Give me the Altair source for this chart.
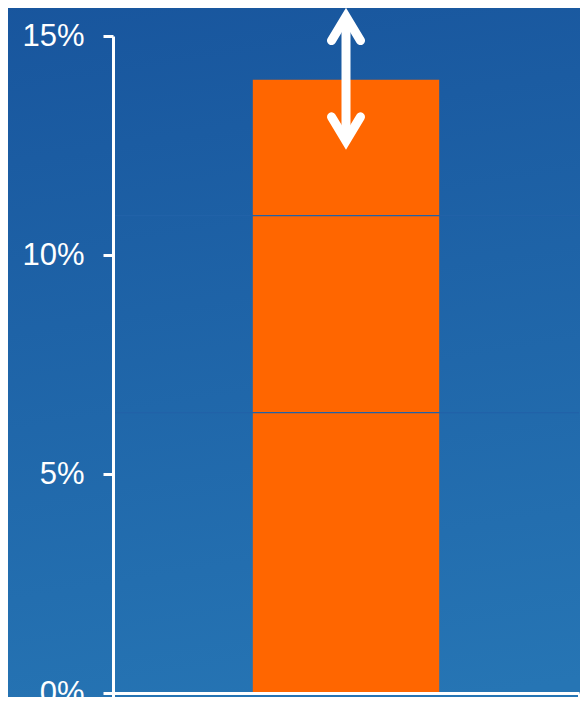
import altair as alt
import pandas as pd

# ---- data ----
category = ["Total"]
segment_names = ["Segment 1", "Segment 2", "Segment 3"]
segment_values = [6.4, 4.5, 3.1]          # stacked pieces, in %
arrow_top = [15.65]                        # double arrow, upper end (%)
arrow_bottom = [12.4]                      # double arrow, lower end (%)
y_tick_values = [0, 5, 10, 15]

# ---- tables built from the arrays ----
tops = pd.Series(segment_values).cumsum().round(4)
seg_df = pd.DataFrame({
    "category": category * len(segment_values),
    "segment": segment_names,
    "bottom": (tops - pd.Series(segment_values)).round(4),
    "top": tops,
})
sep_df = seg_df.iloc[:-1].copy()
arrow_df = pd.DataFrame({"category": category, "top": arrow_top, "bottom": arrow_bottom})
bg_df = pd.DataFrame({"k": [0]})

ORANGE = "#FF6600"
WHITE = "#FFFFFF"

xscale = alt.Scale(paddingInner=0, paddingOuter=0)
yscale = alt.Scale(domain=[0, 15], nice=False, zero=True)

xaxis = alt.Axis(labels=False, title=None, grid=False, domainColor=WHITE, domainWidth=3,
                 tickColor=WHITE, tickWidth=3, tickSize=10, tickBand="extent", zindex=1)
yaxis = alt.Axis(values=y_tick_values, labelExpr="datum.value + '%'", title=None, grid=False,
                 labelFont="Liberation Sans", labelFontSize=31, labelColor=WHITE,
                 labelPadding=19, labelBaseline="middle",
                 domainColor=WHITE, domainWidth=3, tickColor=WHITE, tickWidth=3, tickSize=10,
                 zindex=1)

X = alt.X("category:N", scale=xscale, axis=xaxis, title=None)

background = alt.Chart(bg_df).mark_rect(
    fill=alt.LinearGradient(
        gradient="linear",
        stops=[alt.GradientStop(color="#18559d", offset=0),
               alt.GradientStop(color="#2675b4", offset=1)],
        x1=0, x2=0.15, y1=0, y2=1,
    ),
    strokeWidth=0,
).encode(
    x=alt.value(-120), x2=alt.value(600), y=alt.value(-40), y2=alt.value(720)
)

bars = alt.Chart(seg_df).mark_bar(color=ORANGE, width={"band": 0.4}, strokeWidth=0).encode(
    x=X,
    y=alt.Y("bottom:Q", scale=yscale, axis=yaxis, title=None),
    y2="top:Q",
)

separators = alt.Chart(sep_df).mark_rule(color="#2162a8", strokeWidth=1.2).encode(
    y=alt.Y("top:Q", scale=yscale, axis=yaxis, title=None),
)

shaft = alt.Chart(arrow_df).mark_rule(color=WHITE, strokeWidth=9, yOffset=9, y2Offset=-9).encode(
    x=X,
    y=alt.Y("top:Q", scale=yscale, axis=yaxis, title=None),
    y2="bottom:Q",
)

head_up = alt.Chart(arrow_df).mark_point(
    shape="M-1,0.83L0,-0.83L1,0.83", size=841, filled=False, stroke=WHITE,
    strokeWidth=9, strokeCap="round", strokeJoin="miter", opacity=1, yOffset=21,
).encode(
    x=X,
    y=alt.Y("top:Q", scale=yscale, axis=yaxis, title=None),
)

head_down = alt.Chart(arrow_df).mark_point(
    shape="M-1,-0.83L0,0.83L1,-0.83", size=841, filled=False, stroke=WHITE,
    strokeWidth=9, strokeCap="round", strokeJoin="miter", opacity=1, yOffset=-21,
).encode(
    x=X,
    y=alt.Y("bottom:Q", scale=yscale, axis=yaxis, title=None),
)

chart = alt.layer(background, bars, separators, shaft, head_up, head_down).properties(
    width=466,
    height=657,
    autosize=alt.AutoSizeParams(type="none"),
    padding={"left": 105, "top": 28, "right": 1, "bottom": 4},
    background="#1f66aa",
).configure_view(stroke=None)

chart.save("out.html", embed_options={"renderer": "svg", "actions": False})
